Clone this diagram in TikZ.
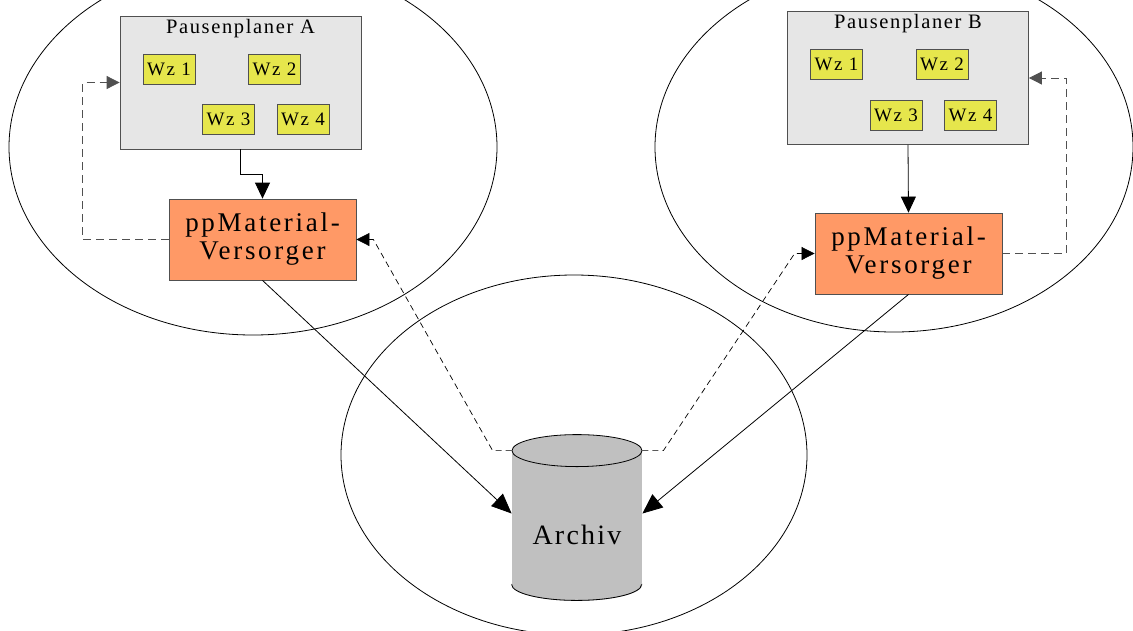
\documentclass[tikz,border=0pt]{standalone}
\usepackage{fontspec}
\setmainfont{Liberation Serif}
\newfontfamily\spacedfont{Liberation Serif}[LetterSpace=8]
\newfontfamily\widefont{Liberation Serif}[LetterSpace=10]
\usepackage{xcolor}
\usepackage{tikz}
\usetikzlibrary{arrows.meta, positioning}

\definecolor{planergray}{HTML}{E6E6E6}
\definecolor{wzyellow}{HTML}{E6E64C}
\definecolor{mvorange}{HTML}{FF9966}
\definecolor{archgray}{HTML}{C0C0C0}
\definecolor{edgegray}{HTML}{505050}

\begin{document}
\begin{tikzpicture}[
    x=1pt, y=-1pt,
    line width=0.8pt,
    planer/.style={draw=edgegray, fill=planergray, minimum width=241pt, minimum height=133pt, inner sep=0pt},
    ptitle/.style={inner sep=0pt, font=\spacedfont\fontsize{20.5}{22}\selectfont},
    wz/.style={draw=edgegray, fill=wzyellow, minimum width=52pt, minimum height=30pt, inner sep=0pt, font=\spacedfont\fontsize{19}{20}\selectfont},
    mv/.style={draw=edgegray, fill=mvorange, minimum width=187pt, minimum height=81pt, inner sep=0pt, align=center, font=\widefont\fontsize{27}{28}\selectfont},
    archbody/.style={fill=archgray, minimum width=130pt, minimum height=133pt, inner sep=0pt},
    arrow/.style={-{Triangle[length=16pt, width=15pt]}},
    loop/.style={-{Triangle[length=13pt, width=13pt]}, draw=edgegray, dash pattern=on 8pt off 5pt},
    feed/.style={-{Triangle[length=13pt, width=13pt]}, line width=0.7pt, dash pattern=on 6pt off 4pt},
]
\clip (0,0) rectangle (1133,630);

% === AREAS ===
\draw (253,147) ellipse [x radius=244, y radius=188];
\draw (894,147) ellipse [x radius=239, y radius=185];
\draw (574,455) ellipse [x radius=233, y radius=180];

% === PAUSENPLANER ===
\node[planer] (pA) at (240.5,82.5) {};
\node[planer] (pB) at (908,78) {};
\node[ptitle, below=3pt of pA.north] (pAtitle) {Pausenplaner A};
\node[ptitle, below=3pt of pB.north] (pBtitle) {Pausenplaner B};

\foreach \p in {A,B} {
    \node[wz] (wz1\p) at ([shift={(-71.5,-13.5)}]p\p.center) {Wz 1};
    \node[wz] (wz2\p) at ([shift={(34,-13.5)}]p\p.center) {Wz 2};
    \node[wz] (wz3\p) at ([shift={(-12,37)}]p\p.center) {Wz 3};
    \node[wz] (wz4\p) at ([shift={(62.5,37)}]p\p.center) {Wz 4};
}

% === VERSORGER ===
\node[mv] (ppA) at (262.5,239.5) {ppMaterial-\\Versorger};
\node[mv] (ppB) at (908.5,253.5) {ppMaterial-\\Versorger};

% === ARCHIV ===
\node[archbody] (arch) at (577,517.5) {};
\filldraw[fill=archgray, draw=archgray!90!black] (arch.south) ellipse [x radius=65, y radius=16];
\draw (arch.south west) arc [start angle=180, end angle=0, x radius=65, y radius=16];
\fill[archgray] (arch.south west) rectangle (arch.north east);
\filldraw[fill=archgray] (arch.north) ellipse [x radius=65, y radius=16];
\node[inner sep=0pt, font=\spacedfont\fontsize{28}{30}\selectfont] (archtxt) at ([yshift=-17pt]arch.center) {Archiv};

% === CONNECTIONS ===
\draw[arrow] (pA.south) -- ++(0,25) -| (ppA.north);
\draw[arrow] (pB.south) -- (ppB.north);

\draw[loop] (ppA.west) -- ++(-86,0) |- (pA.west);
\draw[loop] (ppB.east) -- ++(64,0) |- (pB.east);

\draw[feed] (arch.north west) -- ++(-19,0) -- ([xshift=17pt]ppA.east) -- (ppA.east);
\draw[feed] (arch.north east) -- ++(21,0) -- ([xshift=-20pt]ppB.west) -- (ppB.west);

\draw[-{Triangle[length=20pt, width=17pt]}] (ppA.south) -- ([yshift=4pt]arch.west);
\draw[-{Triangle[length=20pt, width=17pt]}] (ppB.south) -- ([yshift=4pt]arch.east);

\end{tikzpicture}
\end{document}
